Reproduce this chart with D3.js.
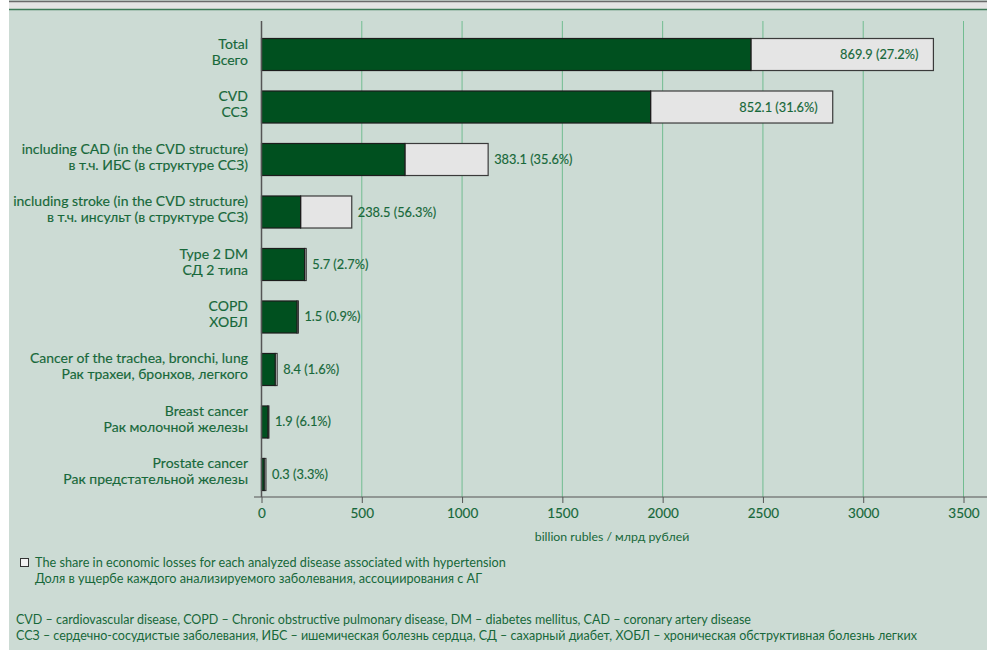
<!DOCTYPE html>
<html>
<head>
<meta charset="utf-8">
<script src="https://cdn.jsdelivr.net/npm/d3@7"></script>
<style>
  body { margin: 0; background: #fff; }
  svg { display: block; font-family: Lato, "Open Sans", sans-serif; }
  text.heavy { stroke: #17683a; stroke-width: 0.15px; }
</style>
</head>
<body>
<div id="chart"></div>
<script>
// categories, two lines each
var labelsEn = ["Total", "CVD", "including CAD (in the CVD structure)", "including stroke (in the CVD structure)",
                "Type 2 DM", "COPD", "Cancer of the trachea, bronchi, lung", "Breast cancer", "Prostate cancer"];
var labelsRu = ["Всего", "ССЗ", "в т.ч. ИБС (в структуре ССЗ)", "в т.ч. инсульт (в структуре ССЗ)",
                "СД 2 типа", "ХОБЛ", "Рак трахеи, бронхов, легкого", "Рак молочной железы", "Рак предстательной железы"];

// dark part and the light part (share associated with hypertension), billion rubles
var baseLoss = [2440, 1940, 715, 195, 215, 177, 68, 32, 13];
var htnLoss  = [910, 908, 415, 255, 8, 7, 10, 5, 9];

// printed values
var htnValue = ["869.9", "852.1", "383.1", "238.5", "5.7", "1.5", "8.4", "1.9", "0.3"];
var htnShare = ["27.2%", "31.6%", "35.6%", "56.3%", "2.7%", "0.9%", "1.6%", "6.1%", "3.3%"];

var xTicks = [0, 500, 1000, 1500, 2000, 2500, 3000, 3500];

var width = 987, height = 650;
var textColor = "#17683a";

var svg = d3.select("#chart").append("svg")
    .attr("width", width)
    .attr("height", height);

// panel background + top rule
svg.append("rect").attr("x", 9).attr("y", 0).attr("width", width - 9).attr("height", height).attr("fill", "#ccdbd4");
svg.append("rect").attr("x", 9).attr("y", 2).attr("width", width - 9).attr("height", 7).attr("fill", "#e4e4e4");
svg.append("line").attr("x1", 9).attr("x2", width).attr("y1", 1.5).attr("y2", 1.5)
    .attr("stroke", "#6a6a6a").attr("stroke-width", 1.5);
svg.append("line").attr("x1", 9).attr("x2", width).attr("y1", 9.5).attr("y2", 9.5)
    .attr("stroke", "#3d7b58").attr("stroke-width", 1.5);

var x = d3.scaleLinear().domain([0, 3500]).range([261.5, 963.5]);
var y = d3.scaleBand().domain(d3.range(labelsEn.length)).range([38, 490])
    .paddingInner(0.39).paddingOuter(0);

var gridTop = 21, axisY = 497;

// gridlines
svg.append("g").selectAll("line")
    .data(xTicks.filter(function(d) { return d > 0; }))
    .enter().append("line")
    .attr("x1", function(d) { return x(d); })
    .attr("x2", function(d) { return x(d); })
    .attr("y1", gridTop).attr("y2", axisY)
    .attr("stroke", "#72bc91").attr("stroke-width", 1);

// x axis
var xAxis = d3.axisBottom(x).tickValues(xTicks).tickFormat(d3.format("d")).tickSize(6).tickPadding(5);
var gx = svg.append("g")
    .attr("transform", "translate(0," + axisY + ")")
    .call(xAxis);
gx.select(".domain").remove();
gx.selectAll(".tick line").attr("stroke", "#555");
gx.selectAll(".tick text")
    .attr("class", "heavy")
    .attr("fill", textColor)
    .style("font-size", "13.5px")
    .style("font-family", "Lato, sans-serif");
svg.append("line").attr("x1", 254).attr("x2", width).attr("y1", axisY).attr("y2", axisY)
    .attr("stroke", "#555").attr("stroke-width", 1.2);

svg.append("text")
    .attr("x", 612).attr("y", 541)
    .attr("text-anchor", "middle")
    .attr("fill", textColor)
    .style("font-size", "12.3px")
    .text("billion rubles / млрд рублей");

// bars
var rows = svg.append("g").selectAll("g")
    .data(d3.range(labelsEn.length))
    .enter().append("g");

rows.append("rect")
    .attr("x", function(i) { return x(baseLoss[i]); })
    .attr("y", function(i) { return y(i) + 0.5; })
    .attr("width", function(i) { return x(baseLoss[i] + htnLoss[i]) - x(baseLoss[i]); })
    .attr("height", y.bandwidth())
    .attr("fill", "#e5e5e5")
    .attr("stroke", "#3a3a3a").attr("stroke-width", 1.2);

rows.append("rect")
    .attr("x", x(0))
    .attr("y", function(i) { return y(i) + 0.5; })
    .attr("width", function(i) { return x(baseLoss[i]) - x(0); })
    .attr("height", y.bandwidth())
    .attr("fill", "#00501f")
    .attr("stroke", "#1c1c1c").attr("stroke-width", 1.2);

// value labels
rows.append("text")
    .attr("class", "heavy")
    .attr("x", function(i) {
        var end = x(baseLoss[i] + htnLoss[i]);
        return end > x(2500) ? end - 15 : end + 6;
    })
    .attr("y", function(i) { return y(i) + y.bandwidth() / 2 + 5; })
    .attr("text-anchor", function(i) { return x(baseLoss[i] + htnLoss[i]) > x(2500) ? "end" : "start"; })
    .attr("fill", textColor)
    .style("font-size", "12.8px")
    .text(function(i) { return htnValue[i] + " (" + htnShare[i] + ")"; });

// category labels
rows.append("text")
    .attr("class", "heavy")
    .attr("x", 248)
    .attr("y", function(i) { return y(i) + y.bandwidth() / 2 - 5.5; })
    .attr("text-anchor", "end")
    .attr("fill", textColor)
    .style("font-size", "14px")
    .text(function(i) { return labelsEn[i]; });
rows.append("text")
    .attr("class", "heavy")
    .attr("x", 248)
    .attr("y", function(i) { return y(i) + y.bandwidth() / 2 + 10.5; })
    .attr("text-anchor", "end")
    .attr("fill", textColor)
    .style("font-size", "14px")
    .text(function(i) { return labelsRu[i]; });

// y axis line
svg.append("line").attr("x1", x(0)).attr("x2", x(0)).attr("y1", gridTop).attr("y2", axisY)
    .attr("stroke", "#555").attr("stroke-width", 1.5);

// legend
svg.append("rect").attr("x", 20.5).attr("y", 558.5).attr("width", 8).attr("height", 8)
    .attr("fill", "#f2f2f2").attr("stroke", "#333").attr("stroke-width", 1);
svg.append("text").attr("x", 35).attr("y", 567)
    .attr("fill", textColor).style("font-size", "12.7px")
    .text("The share in economic losses for each analyzed disease associated with hypertension");
svg.append("text").attr("x", 35).attr("y", 583)
    .attr("fill", textColor).style("font-size", "12.7px")
    .text("Доля в ущербе каждого анализируемого заболевания, ассоциирования с АГ");

// abbreviations
svg.append("text").attr("x", 16).attr("y", 624)
    .attr("fill", textColor).style("font-size", "12.5px")
    .text("CVD – cardiovascular disease, COPD – Chronic obstructive pulmonary disease, DM – diabetes mellitus, CAD – coronary artery disease");
svg.append("text").attr("x", 16).attr("y", 640)
    .attr("fill", textColor).style("font-size", "12.5px")
    .text("ССЗ – сердечно-сосудистые заболевания, ИБС – ишемическая болезнь сердца, СД – сахарный диабет, ХОБЛ – хроническая обструктивная болезнь легких");
</script>
</body>
</html>
